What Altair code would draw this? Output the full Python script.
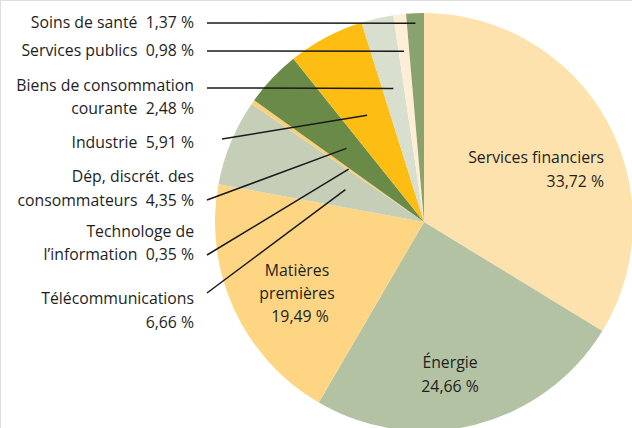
import math
import altair as alt
import pandas as pd

# ---- data ----
sectors = ["Services financiers", "Énergie", "Matières premières", "Télécommunications",
           "Technologie de l'information", "Dép. discrét. des consommateurs", "Industrie",
           "Biens de consommation courante", "Services publics", "Soins de santé"]
shares = [33.72, 24.66, 19.49, 6.66, 0.35, 4.35, 5.91, 2.48, 0.98, 1.37]
colors = ["#FEE2AD", "#B3C2A2", "#FED683", "#C5CFB8", "#FDCF78",
          "#6A8A47", "#FDBD13", "#D8DFCF", "#FEEED6", "#8AA26D"]

# outside labels (text lines) and which sector their leader line points to
out_lines = ["Soins de santé\u00a0 1,37 %", "Services publics\u00a0 0,98 %",
             "Biens de consommation", "courante\u00a0 2,48 %", "Industrie\u00a0 5,91 %",
             "Dép, discrét. des\u00a0", "consommateurs\u00a0 4,35 %",
             "Technologe de\u00a0", "l\u2019information\u00a0 0,35 %",
             "Télécommunications", "6,66 %"]
out_line_y = [23, 51, 86, 109, 143, 177, 201, 232, 255, 299, 323]

leader_sector = ["Soins de santé", "Services publics", "Biens de consommation courante",
                 "Industrie", "Dép. discrét. des consommateurs",
                 "Technologie de l'information", "Télécommunications"]
leader_start_x = [207, 207, 207, 222, 207, 207, 207]
leader_start_y = [23, 51, 88, 139, 200, 255, 293]
leader_depth = [199, 172, 137, 121, 107, 92, 85]

# inside labels
in_lines = ["Services financiers", "33,72 %", "Énergie", "24,66 %",
            "Matières", "premières", "19,49 %"]
in_x = [604, 604, 450, 450, 297, 297, 300]
in_y = [157.5, 181.5, 362.5, 386.5, 270.5, 293.5, 316.5]
in_align = ["right", "right", "center", "center", "center", "center", "center"]

# ---- layout ----
CX, CY, R = 424, 222, 209
FONT = "Open Sans"
FS = 15.8
TXT = "#1e1e1e"

pie_df = pd.DataFrame({"sector": sectors, "share": shares, "idx": list(range(len(sectors)))})

# mid angle of each slice (clockwise from 12 o'clock)
total = sum(shares)
mid = {}
acc = 0.0
for s, v in zip(sectors, shares):
    mid[s] = (acc + v / 2) / total * 2 * math.pi
    acc += v

lead_rows = []
for s, sx, sy, d in zip(leader_sector, leader_start_x, leader_start_y, leader_depth):
    a = mid[s]
    lead_rows.append({"x": sx, "y": sy,
                      "x2": CX + d * math.sin(a), "y2": CY - d * math.cos(a)})
lead_df = pd.DataFrame(lead_rows)

out_df = pd.DataFrame({"t": out_lines, "y": out_line_y, "x": [194] * len(out_lines)})
in_df = pd.DataFrame({"t": in_lines, "x": in_x, "y": in_y, "a": in_align})

pie = alt.Chart(pie_df).mark_arc(radius=R).encode(
    theta=alt.Theta("share:Q", stack=True),
    order=alt.Order("idx:Q"),
    color=alt.Color("sector:N", scale=alt.Scale(domain=sectors, range=colors), legend=None),
    x=alt.value(CX), y=alt.value(CY),
)

leaders = alt.Chart(lead_df).mark_rule(color="#1a1a1a", strokeWidth=1.5).encode(
    x=alt.X("x:Q", scale=None), y=alt.Y("y:Q", scale=None),
    x2="x2:Q", y2="y2:Q",
)

out_text = alt.Chart(out_df).mark_text(align="right", baseline="middle", font=FONT,
                                        fontSize=FS, color=TXT).encode(
    x=alt.X("x:Q", scale=None), y=alt.Y("y:Q", scale=None), text="t:N")

in_right = alt.Chart(in_df[in_df.a == "right"]).mark_text(
    align="right", baseline="middle", font=FONT, fontSize=FS, color=TXT).encode(
    x=alt.X("x:Q", scale=None), y=alt.Y("y:Q", scale=None), text="t:N")
in_center = alt.Chart(in_df[in_df.a == "center"]).mark_text(
    align="center", baseline="middle", font=FONT, fontSize=FS, color=TXT).encode(
    x=alt.X("x:Q", scale=None), y=alt.Y("y:Q", scale=None), text="t:N")

chart = alt.layer(pie, leaders, out_text, in_right, in_center).properties(
    width=632, height=428, padding=0, autosize=alt.AutoSizeParams(type="none"),
).configure_view(stroke=None).configure(background="white")

chart.save("out.html", embed_options={"renderer": "svg", "actions": False})
